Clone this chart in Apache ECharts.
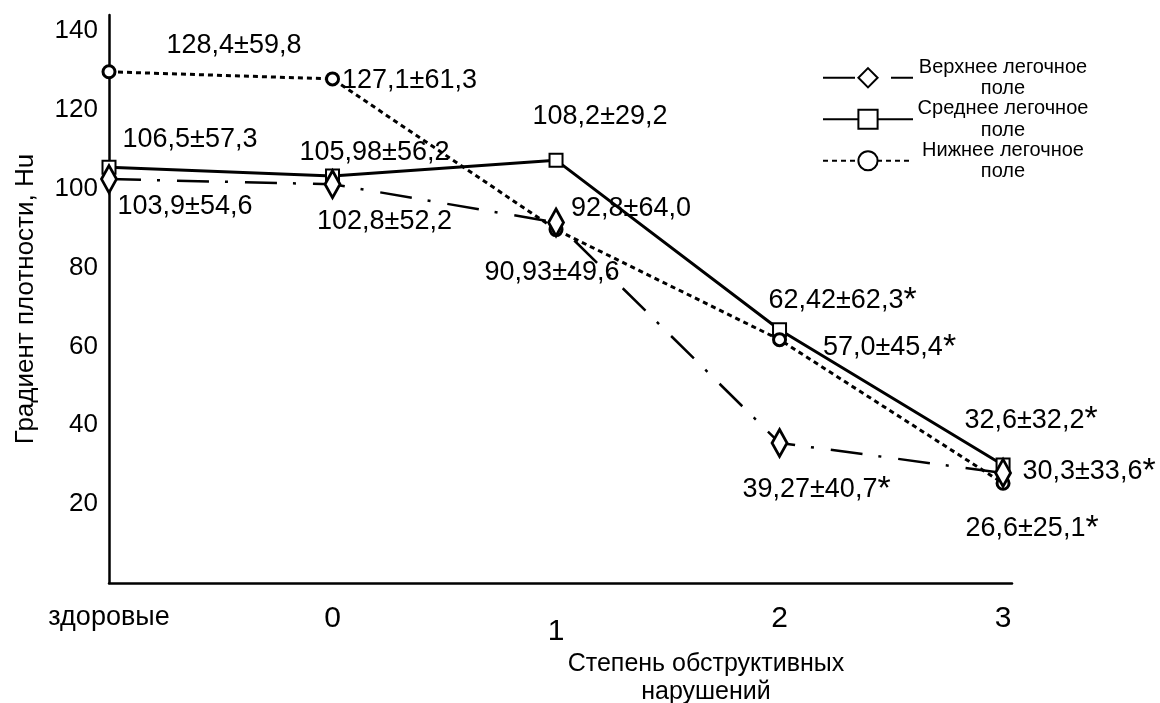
<!DOCTYPE html>
<html><head><meta charset="utf-8">
<script src="https://cdn.jsdelivr.net/npm/echarts@6/dist/echarts.min.js"></script>
<style>html,body{margin:0;padding:0;background:#fff}#c{width:1160px;height:703px}</style>
</head><body><div id="c"></div>
<script>
// ---- data ----
const categories = ['здоровые', '0', '1', '2', '3'];
const seriesNames = ['Верхнее легочное поле', 'Среднее легочное поле', 'Нижнее легочное поле'];
const upperValues  = [102.4, 101.1, 91.4, 35.5, 27.9];
const middleValues = [105.4, 103.2, 107.2, 64.2, 29.9];
const lowerValues  = [129.6, 127.8, 89.6, 61.7, 25.3];
const upperLabels  = ['103,9±54,6', '102,8±52,2', '92,8±64,0', '39,27±40,7*', '30,3±33,6*'];
const middleLabels = ['106,5±57,3', '105,98±56,2', '108,2±29,2', '62,42±62,3*', '32,6±32,2*'];
const lowerLabels  = ['128,4±59,8', '127,1±61,3', '90,93±49,6', '57,0±45,4*', '26,6±25,1*'];
const yTickLabels = [20, 40, 60, 80, 100, 120, 140];

// ---- layout (label offsets in px, relative to the point) ----
const upperOffsets  = [[76, 27], [52, 37], [75, -14], [37, 47], [86, -1]];
const middleOffsets = [[81, -28], [42, -23], [44, -44], [63, -29], [28, -45]];
const lowerOffsets  = [[125, -26], [77, 2], [-4, 43], [110, 8], [29, 45]];

const FONT = '"Liberation Sans", Arial, sans-serif';

function richText(s) {
  if (s.endsWith('*')) return '{t|' + s.slice(0, -1) + '}{s|*}';
  return '{t|' + s + '}';
}
function build(values, labels, offsets) {
  return values.map((v, i) => ({
    value: [i, v],
    label: { offset: offsets[i], formatter: richText(labels[i]) }
  }));
}
const labelStyle = {
  show: true, position: 'inside', color: '#000', fontFamily: FONT, fontSize: 27,
  rich: {
    t: { fontSize: 27, color: '#000', fontFamily: FONT, lineHeight: 30 },
    s: { fontSize: 34, color: '#000', fontFamily: FONT, lineHeight: 30 }
  }
};

const chart = echarts.init(document.getElementById('c'));
chart.setOption({
  animation: false,
  backgroundColor: '#fff',
  grid: { left: 109, right: 148, top: 15, bottom: 120, outerBoundsMode: 'none' },
  title: {
    text: 'Степень обструктивных\nнарушений',
    left: 701, top: 645, textAlign: 'center',
    textStyle: { fontSize: 25, fontWeight: 'normal', lineHeight: 28, color: '#000', fontFamily: FONT }
  },
  legend: {
    orient: 'vertical', left: 817, top: 52, itemWidth: 90, itemHeight: 24, itemGap: 0,
    selectedMode: false,
    data: seriesNames,
    formatter: function (name) {
      const parts = name.split(' ');
      const last = parts.pop();
      return '{a|' + parts.join(' ') + '}\n{a|' + last + '}';
    },
    textStyle: {
      color: '#000', fontFamily: FONT, fontSize: 20,
      rich: { a: { width: 170, align: 'center', fontSize: 20, lineHeight: 21.5, fontFamily: FONT, color: '#000' } }
    }
  },
  xAxis: {
    type: 'value', min: 0, max: 4.04, interval: 1,
    axisLine: { onZero: false, lineStyle: { color: '#000', width: 2.5 } },
    axisTick: { show: false }, splitLine: { show: false },
    axisLabel: {
      margin: 21,
      formatter: function (v) {
        if (!Number.isInteger(v) || !categories[v]) return '';
        if (v === 0) return '{h|' + categories[v] + '}';
        if (v === 2) return '{low|' + categories[v] + '}';
        return '{n|' + categories[v] + '}';
      },
      rich: {
        h: { fontSize: 27, color: '#000', fontFamily: FONT },
        n: { fontSize: 30, color: '#000', fontFamily: FONT },
        low: { fontSize: 30, color: '#000', fontFamily: FONT, padding: [13, 0, 0, 0] }
      }
    }
  },
  yAxis: {
    type: 'value', min: 0, max: 144, interval: 20,
    name: 'Градиент плотности, Hu', nameLocation: 'middle', nameGap: 70,
    nameTextStyle: { fontSize: 26, color: '#000', fontFamily: FONT },
    axisLine: { show: true, lineStyle: { color: '#000', width: 2.5 } },
    axisTick: { show: false }, splitLine: { show: false },
    axisLabel: {
      margin: 11, fontSize: 26, color: '#000', fontFamily: FONT,
      formatter: function (v) { return yTickLabels.indexOf(v) >= 0 ? String(v) : ''; }
    }
  },
  series: [
    {
      name: seriesNames[0], type: 'line', data: build(upperValues, upperLabels, upperOffsets),
      symbol: 'diamond', symbolSize: [15, 27], showAllSymbol: true, z: 4,
      lineStyle: { color: '#000', width: 2.5, type: [32, 16, 3, 17] },
      itemStyle: { color: '#fff', borderColor: '#000', borderWidth: 3 },
      label: labelStyle
    },
    {
      name: seriesNames[1], type: 'line', data: build(middleValues, middleLabels, middleOffsets),
      symbol: 'rect', symbolSize: 13, showAllSymbol: true, z: 3,
      lineStyle: { color: '#000', width: 3, type: 'solid' },
      itemStyle: { color: '#fff', borderColor: '#000', borderWidth: 2 },
      label: labelStyle
    },
    {
      name: seriesNames[2], type: 'line', data: build(lowerValues, lowerLabels, lowerOffsets),
      symbol: 'circle', symbolSize: 12, showAllSymbol: true, z: 3,
      lineStyle: { color: '#000', width: 3, type: [5, 4] },
      itemStyle: { color: '#fff', borderColor: '#000', borderWidth: 3 },
      label: labelStyle
    }
  ]
});
</script>
</body></html>
